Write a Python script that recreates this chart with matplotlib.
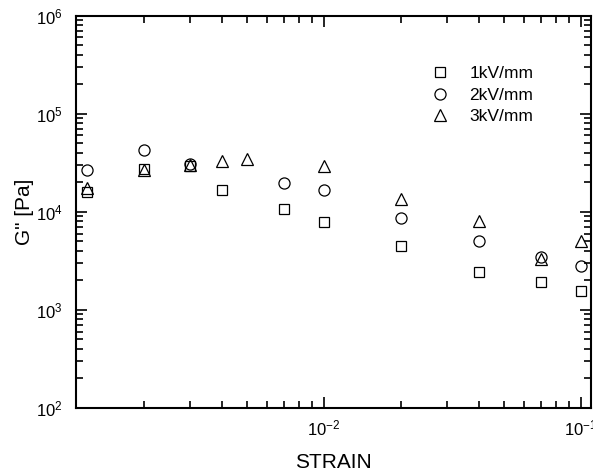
import matplotlib
matplotlib.use("Agg")
import matplotlib.pyplot as plt
from matplotlib.ticker import LogLocator, NullFormatter

plt.rcParams['font.family'] = ['Liberation Sans', 'DejaVu Sans']
plt.rcParams['mathtext.fontset'] = 'custom'
plt.rcParams['mathtext.rm'] = 'Liberation Sans'
plt.rcParams['mathtext.it'] = 'Liberation Sans:italic'
plt.rcParams['mathtext.bf'] = 'Liberation Sans:bold'
plt.rcParams['axes.unicode_minus'] = False

# data
strain_1kv = [1.2e-3, 2e-3, 3e-3, 4e-3, 7e-3, 1e-2, 2e-2, 4e-2, 7e-2, 1e-1]
g_1kv = [16100, 27500, 29000, 16500, 10700, 7860, 4500, 2460, 1930, 1540]

strain_2kv = [1.2e-3, 2e-3, 3e-3, 7e-3, 1e-2, 2e-2, 4e-2, 7e-2, 1e-1]
g_2kv = [26400, 42300, 30400, 19600, 16500, 8630, 5060, 3420, 2790]

strain_3kv = [1.2e-3, 2e-3, 3e-3, 4e-3, 5e-3, 1e-2, 2e-2, 4e-2, 7e-2, 1e-1]
g_3kv = [17600, 26900, 29700, 33100, 34500, 29400, 13600, 8090, 3310, 5060]

labels = ['1kV/mm', '2kV/mm', '3kV/mm']

fig = plt.figure(figsize=(5.93, 4.71), dpi=100)
ax = fig.add_axes([0.129, 0.134, 0.8676, 0.8327])

kw = dict(linestyle='none', markerfacecolor='none', markeredgecolor='black',
          markeredgewidth=0.9)
ax.plot(strain_1kv, g_1kv, marker='s', markersize=7, label=labels[0], **kw)
ax.plot(strain_2kv, g_2kv, marker='o', markersize=8, label=labels[1], **kw)
ax.plot(strain_3kv, g_3kv, marker='^', markersize=9, label=labels[2], **kw)

ax.set_xscale('log')
ax.set_yscale('log')
ax.set_xlim(1.09e-3, 0.1094)
ax.set_ylim(1e2, 1e6)

ax.xaxis.set_major_locator(LogLocator(base=10, numticks=10))
ax.xaxis.set_minor_locator(LogLocator(base=10, subs=range(2, 10), numticks=20))
ax.yaxis.set_major_locator(LogLocator(base=10, numticks=10))
ax.yaxis.set_minor_locator(LogLocator(base=10, subs=range(2, 10), numticks=20))
ax.xaxis.set_minor_formatter(NullFormatter())
ax.yaxis.set_minor_formatter(NullFormatter())

ax.tick_params(which='both', direction='in', top=True, right=True,
               labelsize=12, width=1.2)
ax.tick_params(which='major', length=8)
ax.tick_params(which='minor', length=5)
ax.tick_params(axis='x', pad=8)
ax.tick_params(axis='y', pad=10)
for s in ax.spines.values():
    s.set_linewidth(1.5)

ax.set_xlabel('STRAIN', fontsize=15, labelpad=10)
ax.set_ylabel('G" [Pa]', fontsize=15, labelpad=1)

ax.legend(loc='upper left', bbox_to_anchor=(0.676, 0.89), frameon=False,
          fontsize=12.5, handlelength=1.0, handletextpad=1.2,
          labelspacing=0.38, borderaxespad=0)

fig.savefig('out.png', dpi=100)
